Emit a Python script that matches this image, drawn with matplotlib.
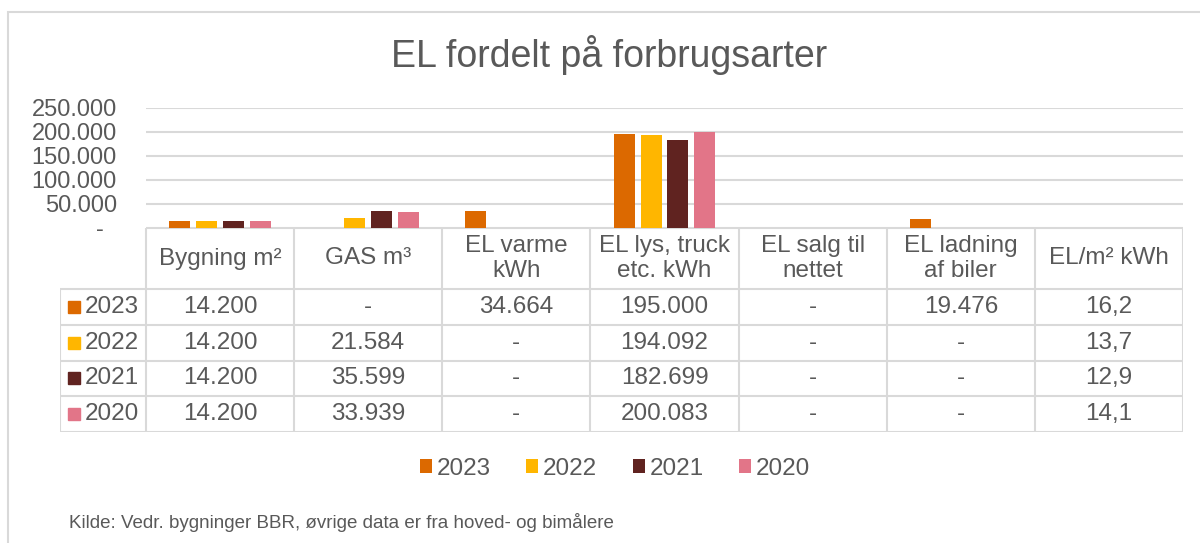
import matplotlib.pyplot as plt
import numpy as np
from matplotlib.patches import Patch, Rectangle

plt.rcParams['font.family'] = ['Liberation Sans', 'DejaVu Sans']

categories = ['Bygning m²', 'GAS m³', 'EL varme\nkWh', 'EL lys, truck\netc. kWh',
              'EL salg til\nnettet', 'EL ladning\naf biler', 'EL/m² kWh']
years = ['2023', '2022', '2021', '2020']
v2023 = [14200, None, 34664, 195000, None, 19476, 16.2]
v2022 = [14200, 21584, None, 194092, None, None, 13.7]
v2021 = [14200, 35599, None, 182699, None, None, 12.9]
v2020 = [14200, 33939, None, 200083, None, None, 14.1]
series = [v2023, v2022, v2021, v2020]
colors = ['#DC6900', '#FFB600', '#602320', '#E27588']
yticks = [0, 50000, 100000, 150000, 200000, 250000]

TXT = '#595959'
GRID = '#D9D9D9'
W, H = 1200, 543


def fmt(v, col):
    if v is None:
        return '-'
    if col == len(categories) - 1:
        return f'{v:.1f}'.replace('.', ',')
    return f'{v:,.0f}'.replace(',', '.')


def ytick_label(v):
    if v == 0:
        return '-  '
    return f'{v:,.0f}'.replace(',', '.')


fig = plt.figure(figsize=(W / 100, H / 100), dpi=100)

# outer chart frame (right and bottom edges fall outside the picture)
fig.patches.append(Rectangle((8 / W, -0.2), 2, 1.2 - 12 / H, transform=fig.transFigure,
                             fill=False, edgecolor=GRID, linewidth=1.5))

# bar axes
x0, x1 = 146, 1183
ax = fig.add_axes([x0 / W, (H - 228) / H, (x1 - x0) / W, 120 / H])
n = len(categories)
x = np.arange(n)
step, bw = 0.182, 0.142
for k, (vals, c) in enumerate(zip(series, colors)):
    h = [0 if v is None else v for v in vals]
    ax.bar(x + (k - 1.5) * step, h, width=bw, color=c, zorder=3)
ax.set_xlim(-0.5, n - 0.5)
ax.set_ylim(0, 250000)
ax.set_yticks(yticks)
ax.set_yticklabels([ytick_label(v) for v in yticks])
ax.tick_params(axis='y', length=0, pad=21, labelsize=17, labelcolor=TXT)
ax.set_xticks([])
ax.grid(axis='y', color=GRID, linewidth=1.5, zorder=0)
for s in ax.spines.values():
    s.set_visible(False)

# data table axes
colw = (x1 - x0) / n
lab_w = (x0 - 60) / colw
tab = fig.add_axes([60 / W, (H - 432) / H, (x1 - 60) / W, 204 / H])
tab.set_xlim(-0.5 - lab_w, n - 0.5)
tab.set_ylim(204, 0)
tab.axis('off')
hdr = 61
rowh = (204 - hdr) / len(years)
lk = dict(color=GRID, linewidth=1.5, solid_capstyle='butt')

# header
tab.plot([-0.5, n - 0.5], [0, 0], **lk)
for i in range(n + 1):
    tab.plot([i - 0.5, i - 0.5], [0, 204], **lk)
for i, name in enumerate(categories):
    tab.text(i, hdr / 2, name, ha='center', va='center', fontsize=17.5, color=TXT,
             linespacing=1.2)

# rows
for r in range(len(years) + 1):
    tab.plot([-0.5 - lab_w, n - 0.5], [hdr + r * rowh] * 2, **lk)
tab.plot([-0.5 - lab_w] * 2, [hdr, 204], **lk)
sq = 12 / colw
for r, (yr, vals, c) in enumerate(zip(years, series, colors)):
    yc = hdr + (r + 0.5) * rowh
    tab.add_patch(Rectangle((-0.5 - lab_w + 8 / colw, yc - 6), sq, 12, color=c))
    tab.text(-0.5 - lab_w + 25 / colw, yc, yr, ha='left', va='center',
             fontsize=17.5, color=TXT)
    for i, v in enumerate(vals):
        tab.text(i, yc, fmt(v, i), ha='center', va='center', fontsize=17.5, color=TXT)

fig.text(609 / W, 1 - 55 / H, 'EL fordelt på forbrugsarter', ha='center', va='center',
         fontsize=27, color=TXT)

handles = [Patch(facecolor=c, label=y) for y, c in zip(years, colors)]
fig.legend(handles=handles, loc='center', bbox_to_anchor=(615 / W, 1 - 469 / H), ncol=4,
           frameon=False, fontsize=17.5, labelcolor=TXT, handlelength=0.5, handleheight=0.5,
           handletextpad=0.2, columnspacing=1.45)

fig.text(69 / W, 1 - 522 / H, 'Kilde: Vedr. bygninger BBR, øvrige data er fra hoved- og bimålere',
         ha='left', va='center', fontsize=13.5, color=TXT)

fig.savefig('out.png', dpi=100)
